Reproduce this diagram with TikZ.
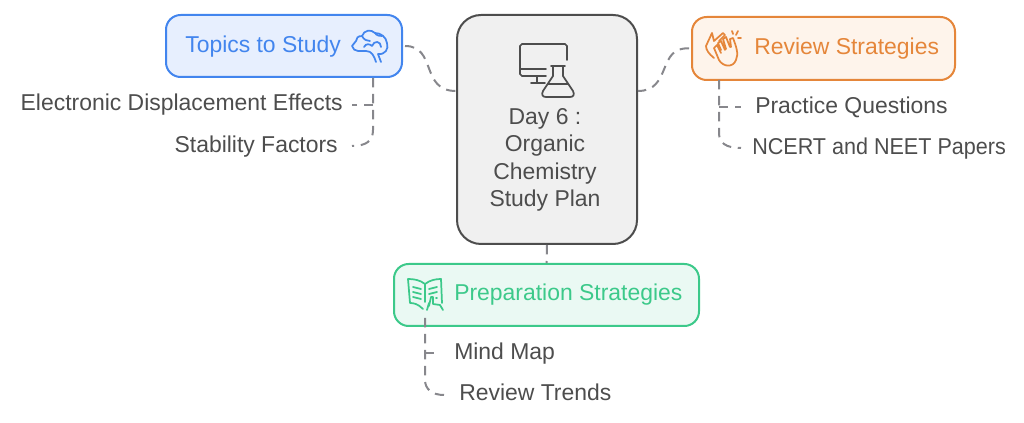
\documentclass[tikz,border=0pt]{standalone}
\usepackage{fontspec}
\setmainfont{Liberation Sans}
\newfontfamily\narrowfont[FakeStretch=0.94]{Liberation Sans}
\usepackage{tikz}
\usetikzlibrary{positioning}
\definecolor{topicblue}{RGB}{66,133,238}
\definecolor{topicfill}{RGB}{231,239,254}
\definecolor{revieworange}{RGB}{229,134,58}
\definecolor{reviewfill}{RGB}{254,244,235}
\definecolor{prepgreen}{RGB}{60,201,138}
\definecolor{prepfill}{RGB}{234,249,243}
\definecolor{rootgray}{RGB}{77,77,77}
\definecolor{rootfill}{RGB}{240,240,240}
\definecolor{linkgray}{RGB}{135,135,140}
\tikzset{box/.style={draw,rounded corners=11pt,line width=1.5pt,inner sep=0pt},
         label/.style={font=\fontsize{17.2}{20}\selectfont,text=rootgray,inner sep=0pt,text height=12.4pt,text depth=3.6pt},
         link/.style={draw=linkgray,line width=1.5pt,dash pattern=on 7pt off 5pt},
         icon/.style={line width=1.3pt,line cap=round,line join=round}}
\begin{document}
\begin{tikzpicture}[x=0.75pt,y=-0.75pt]
            \useasboundingbox (0,0) rectangle (1024,423);
            \node[box,draw=rootgray,fill=rootfill,rounded corners=18pt,minimum width=135pt,minimum height=171.75pt] (root) at (547,129.5) {};
            \node[box,draw=topicblue,fill=topicfill,minimum width=177pt,minimum height=46.5pt] (topics) at (284,46) {};
            \node[box,draw=revieworange,fill=reviewfill,minimum width=197.25pt,minimum height=47.25pt] (review) at (823.5,48.5) {};
            \node[box,draw=prepgreen,fill=prepfill,minimum width=228.75pt,minimum height=46.5pt] (prep) at (546.5,295) {};

            % titles
            \node[label,text=topicblue,anchor=west] (topicstext) at (185,47) {Topics to Study};
            \node[label,text=revieworange,anchor=west] (reviewtext) at (754,49) {Review Strategies};
            \node[label,text=prepgreen,anchor=west] (preptext) at (454,294.5) {Preparation Strategies};
            \node[font=\fontsize{17.2}{20.5}\selectfont,text=rootgray,inner sep=0pt,align=center] (roottext) at (545,160) {Day 6 :\\Organic\\Chemistry\\Study Plan};

            % leaves
            \node[label,anchor=east] (effects) at (343,105) {Electronic Displacement Effects};
            \node[label,anchor=east] (stability) at (338,146.5) {Stability Factors};
            \node[label,anchor=west] (practice) at (755,107.5) {Practice Questions};
            \node[label,anchor=west] (papers) at (752,148.5) {\narrowfont NCERT and NEET Papers};
            \node[label,anchor=west] (mindmap) at (454,353.5) {Mind Map};
            \node[label,anchor=west] (trends) at (459,394.5) {Review Trends};

            % free ends
            \coordinate (a1) at (373,78);
            \coordinate (a2) at (373,105);
            \coordinate (a3) at (352,146);
            \coordinate (a4) at (352,105);
            \coordinate (b1) at (719,80);
            \coordinate (b2) at (719,107);
            \coordinate (b3) at (741,148);
            \coordinate (b4) at (741,107);
            \coordinate (c1) at (425,318);
            \coordinate (c2) at (425,353);
            \coordinate (c3) at (444,395);
            \coordinate (c4) at (440,353);

            \draw[link] (topics.east) ++(2,0) .. controls (437,46) and (420,91) .. (root.west |- 0,91);
            \draw[link] (review.west) ++(-2,0) .. controls (657,46) and (672,91) .. (root.east |- 0,91);
            \draw[link] (root.south) -- (prep.north);
            \draw[link] (a1) -- (373,130) .. controls (373,141) and (366,146) .. (a3);
            \draw[link] (a2) -- (a4);
            \draw[link] (b1) -- (719,133) .. controls (719,143) and (726,148) .. (b3);
            \draw[link] (b2) -- (b4);
            \draw[link] (c1) -- (425,380) .. controls (425,389) and (432,395) .. (c3);
            \draw[link] (c2) -- (c4);

            % monitor and flask
            \draw[icon,rootgray] (567,60) -- (567,46) -- (565,44) -- (522,44) -- (520,46) -- (520,74) -- (522,76) -- (546,76);
            \draw[icon,rootgray] (520,69) -- (546,69) (537,76) -- (537,83) (531,83) -- (545,83);
            \draw[icon,rootgray] (551,66) -- (565,66) (553,66) -- (553,76) -- (543,91) .. controls (541,95) and (543,97) .. (546,97) -- (570,97) .. controls (573,97) and (575,95) .. (573,91) -- (563,76) -- (563,66) (548,84) -- (568,84);

            % brain
            \draw[icon,topicblue] (381,62) -- (378,54) .. controls (385,55) and (389,49) .. (387,43) .. controls (386,37) and (381,33) .. (375,33) .. controls (371,29) and (364,30) .. (362,36) .. controls (358,36) and (356,38) .. (356,41) -- (352,46) .. controls (353,49) and (355,51) .. (358,51) -- (366,51) .. controls (372,51) and (374,56) .. (376,62);
            \draw[icon,topicblue] (362,36) .. controls (364,40) and (367,41) .. (370,41) (364,47) .. controls (366,43) and (370,44) .. (372,46) (372,46) .. controls (374,40) and (381,41) .. (381,47) (375,33) .. controls (377,36) and (380,36) .. (382,36);

            % hands
            \draw[icon,revieworange] (714,58) .. controls (709,54) and (706,50) .. (706,46) -- (712,33) -- (714,41) -- (723,33) -- (725,35) -- (719,41);
            \draw[icon,revieworange] (721,53) -- (717,45) -- (714,48) -- (719,60) .. controls (723,67) and (733,68) .. (736,60) .. controls (739,54) and (736,46) .. (733,38) -- (730,39) -- (731,47) (730,47) -- (726,37) -- (723,39) -- (726,49) (725,50) -- (721,41) -- (718,43) -- (721,50);
            \draw[icon,revieworange] (732,31) -- (733,34) (738,31) -- (736,35) (741,38) -- (738,38);

            % book and hand
            \draw[icon,prepgreen] (423,309) .. controls (418,304) and (414,303) .. (410,303) -- (408,279) .. controls (414,279) and (420,280) .. (425,284) .. controls (430,280) and (436,279) .. (441,279) -- (442,303);
            \draw[icon,prepgreen] (425,284) -- (425,302) (413,287) -- (421,289) (413,292) -- (421,294) (413,297) -- (421,299) (429,289) -- (437,287) (429,294) -- (437,292) (436,298) -- (437,298);
            \draw[icon,prepgreen] (427,310) -- (429,303) (429,306) -- (431,297) -- (433,297) -- (433,304) -- (440,305) -- (443,310);
        \end{tikzpicture}
\end{document}
